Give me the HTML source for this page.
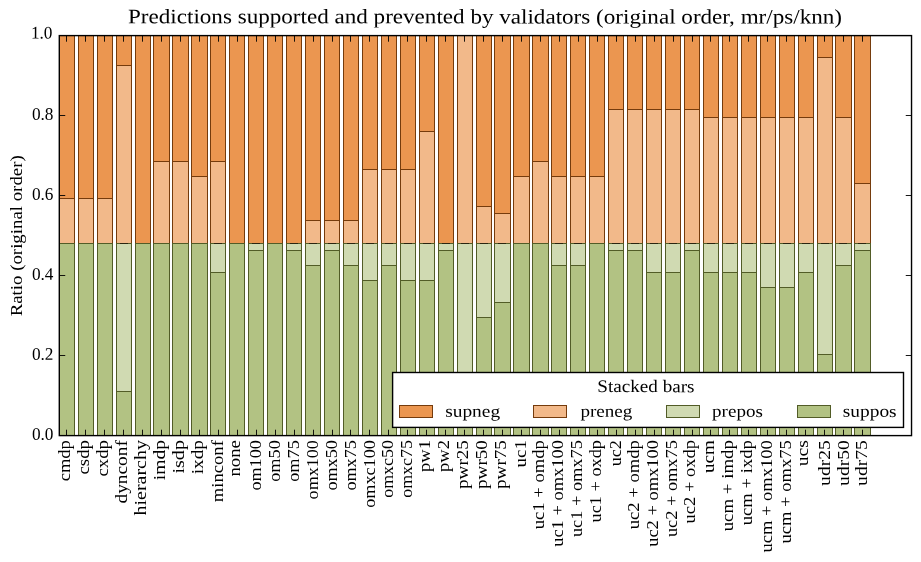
<!DOCTYPE html>
<html><head><meta charset="utf-8"><title>Predictions supported and prevented by validators</title>
<style>
html,body{margin:0;padding:0;background:#fff;}
body{width:921px;height:562px;overflow:hidden;font-family:"Liberation Serif",serif;}
svg{display:block;will-change:transform;}
</style></head><body>
<svg width="921" height="562" viewBox="0 0 921 562">
<rect x="0" y="0" width="921" height="562" fill="#fff"/>
<g stroke-width="1">
<rect x="59.5" y="198.5" width="15.0" height="45.0" fill="#f2b98a" stroke="#753b0c"/>
<rect x="59.5" y="35.5" width="15.0" height="163.0" fill="#eb9650" stroke="#753b0c"/>
<rect x="59.5" y="243.5" width="15.0" height="192.0" fill="#b2c283" stroke="#525c27"/>
<rect x="59.5" y="243.5" width="15.0" height="0.0" fill="#d0dab2" stroke="#525c27"/>
<rect x="78.5" y="198.5" width="15.0" height="45.0" fill="#f2b98a" stroke="#753b0c"/>
<rect x="78.5" y="35.5" width="15.0" height="163.0" fill="#eb9650" stroke="#753b0c"/>
<rect x="78.5" y="243.5" width="15.0" height="192.0" fill="#b2c283" stroke="#525c27"/>
<rect x="78.5" y="243.5" width="15.0" height="0.0" fill="#d0dab2" stroke="#525c27"/>
<rect x="97.5" y="198.5" width="15.0" height="45.0" fill="#f2b98a" stroke="#753b0c"/>
<rect x="97.5" y="35.5" width="15.0" height="163.0" fill="#eb9650" stroke="#753b0c"/>
<rect x="97.5" y="243.5" width="15.0" height="192.0" fill="#b2c283" stroke="#525c27"/>
<rect x="97.5" y="243.5" width="15.0" height="0.0" fill="#d0dab2" stroke="#525c27"/>
<rect x="116.5" y="65.5" width="15.0" height="178.0" fill="#f2b98a" stroke="#753b0c"/>
<rect x="116.5" y="35.5" width="15.0" height="30.0" fill="#eb9650" stroke="#753b0c"/>
<rect x="116.5" y="391.5" width="15.0" height="44.0" fill="#b2c283" stroke="#525c27"/>
<rect x="116.5" y="243.5" width="15.0" height="148.0" fill="#d0dab2" stroke="#525c27"/>
<rect x="135.5" y="243.5" width="15.0" height="0.0" fill="#f2b98a" stroke="#753b0c"/>
<rect x="135.5" y="35.5" width="15.0" height="208.0" fill="#eb9650" stroke="#753b0c"/>
<rect x="135.5" y="243.5" width="15.0" height="192.0" fill="#b2c283" stroke="#525c27"/>
<rect x="135.5" y="243.5" width="15.0" height="0.0" fill="#d0dab2" stroke="#525c27"/>
<rect x="153.5" y="161.5" width="16.0" height="82.0" fill="#f2b98a" stroke="#753b0c"/>
<rect x="153.5" y="35.5" width="16.0" height="126.0" fill="#eb9650" stroke="#753b0c"/>
<rect x="153.5" y="243.5" width="16.0" height="192.0" fill="#b2c283" stroke="#525c27"/>
<rect x="153.5" y="243.5" width="16.0" height="0.0" fill="#d0dab2" stroke="#525c27"/>
<rect x="172.5" y="161.5" width="16.0" height="82.0" fill="#f2b98a" stroke="#753b0c"/>
<rect x="172.5" y="35.5" width="16.0" height="126.0" fill="#eb9650" stroke="#753b0c"/>
<rect x="172.5" y="243.5" width="16.0" height="192.0" fill="#b2c283" stroke="#525c27"/>
<rect x="172.5" y="243.5" width="16.0" height="0.0" fill="#d0dab2" stroke="#525c27"/>
<rect x="191.5" y="176.5" width="16.0" height="67.0" fill="#f2b98a" stroke="#753b0c"/>
<rect x="191.5" y="35.5" width="16.0" height="141.0" fill="#eb9650" stroke="#753b0c"/>
<rect x="191.5" y="243.5" width="16.0" height="192.0" fill="#b2c283" stroke="#525c27"/>
<rect x="191.5" y="243.5" width="16.0" height="0.0" fill="#d0dab2" stroke="#525c27"/>
<rect x="210.5" y="161.5" width="15.0" height="82.0" fill="#f2b98a" stroke="#753b0c"/>
<rect x="210.5" y="35.5" width="15.0" height="126.0" fill="#eb9650" stroke="#753b0c"/>
<rect x="210.5" y="272.5" width="15.0" height="163.0" fill="#b2c283" stroke="#525c27"/>
<rect x="210.5" y="243.5" width="15.0" height="29.0" fill="#d0dab2" stroke="#525c27"/>
<rect x="229.5" y="243.5" width="15.0" height="0.0" fill="#f2b98a" stroke="#753b0c"/>
<rect x="229.5" y="35.5" width="15.0" height="208.0" fill="#eb9650" stroke="#753b0c"/>
<rect x="229.5" y="243.5" width="15.0" height="192.0" fill="#b2c283" stroke="#525c27"/>
<rect x="229.5" y="243.5" width="15.0" height="0.0" fill="#d0dab2" stroke="#525c27"/>
<rect x="248.5" y="243.5" width="15.0" height="0.0" fill="#f2b98a" stroke="#753b0c"/>
<rect x="248.5" y="35.5" width="15.0" height="208.0" fill="#eb9650" stroke="#753b0c"/>
<rect x="248.5" y="250.5" width="15.0" height="185.0" fill="#b2c283" stroke="#525c27"/>
<rect x="248.5" y="243.5" width="15.0" height="7.0" fill="#d0dab2" stroke="#525c27"/>
<rect x="267.5" y="243.5" width="15.0" height="0.0" fill="#f2b98a" stroke="#753b0c"/>
<rect x="267.5" y="35.5" width="15.0" height="208.0" fill="#eb9650" stroke="#753b0c"/>
<rect x="267.5" y="243.5" width="15.0" height="192.0" fill="#b2c283" stroke="#525c27"/>
<rect x="267.5" y="243.5" width="15.0" height="0.0" fill="#d0dab2" stroke="#525c27"/>
<rect x="286.5" y="243.5" width="15.0" height="0.0" fill="#f2b98a" stroke="#753b0c"/>
<rect x="286.5" y="35.5" width="15.0" height="208.0" fill="#eb9650" stroke="#753b0c"/>
<rect x="286.5" y="250.5" width="15.0" height="185.0" fill="#b2c283" stroke="#525c27"/>
<rect x="286.5" y="243.5" width="15.0" height="7.0" fill="#d0dab2" stroke="#525c27"/>
<rect x="305.5" y="220.5" width="15.0" height="23.0" fill="#f2b98a" stroke="#753b0c"/>
<rect x="305.5" y="35.5" width="15.0" height="185.0" fill="#eb9650" stroke="#753b0c"/>
<rect x="305.5" y="265.5" width="15.0" height="170.0" fill="#b2c283" stroke="#525c27"/>
<rect x="305.5" y="243.5" width="15.0" height="22.0" fill="#d0dab2" stroke="#525c27"/>
<rect x="324.5" y="220.5" width="15.0" height="23.0" fill="#f2b98a" stroke="#753b0c"/>
<rect x="324.5" y="35.5" width="15.0" height="185.0" fill="#eb9650" stroke="#753b0c"/>
<rect x="324.5" y="250.5" width="15.0" height="185.0" fill="#b2c283" stroke="#525c27"/>
<rect x="324.5" y="243.5" width="15.0" height="7.0" fill="#d0dab2" stroke="#525c27"/>
<rect x="343.5" y="220.5" width="15.0" height="23.0" fill="#f2b98a" stroke="#753b0c"/>
<rect x="343.5" y="35.5" width="15.0" height="185.0" fill="#eb9650" stroke="#753b0c"/>
<rect x="343.5" y="265.5" width="15.0" height="170.0" fill="#b2c283" stroke="#525c27"/>
<rect x="343.5" y="243.5" width="15.0" height="22.0" fill="#d0dab2" stroke="#525c27"/>
<rect x="362.5" y="169.5" width="15.0" height="74.0" fill="#f2b98a" stroke="#753b0c"/>
<rect x="362.5" y="35.5" width="15.0" height="134.0" fill="#eb9650" stroke="#753b0c"/>
<rect x="362.5" y="280.5" width="15.0" height="155.0" fill="#b2c283" stroke="#525c27"/>
<rect x="362.5" y="243.5" width="15.0" height="37.0" fill="#d0dab2" stroke="#525c27"/>
<rect x="381.5" y="169.5" width="15.0" height="74.0" fill="#f2b98a" stroke="#753b0c"/>
<rect x="381.5" y="35.5" width="15.0" height="134.0" fill="#eb9650" stroke="#753b0c"/>
<rect x="381.5" y="265.5" width="15.0" height="170.0" fill="#b2c283" stroke="#525c27"/>
<rect x="381.5" y="243.5" width="15.0" height="22.0" fill="#d0dab2" stroke="#525c27"/>
<rect x="400.5" y="169.5" width="15.0" height="74.0" fill="#f2b98a" stroke="#753b0c"/>
<rect x="400.5" y="35.5" width="15.0" height="134.0" fill="#eb9650" stroke="#753b0c"/>
<rect x="400.5" y="280.5" width="15.0" height="155.0" fill="#b2c283" stroke="#525c27"/>
<rect x="400.5" y="243.5" width="15.0" height="37.0" fill="#d0dab2" stroke="#525c27"/>
<rect x="419.5" y="131.5" width="15.0" height="112.0" fill="#f2b98a" stroke="#753b0c"/>
<rect x="419.5" y="35.5" width="15.0" height="96.0" fill="#eb9650" stroke="#753b0c"/>
<rect x="419.5" y="280.5" width="15.0" height="155.0" fill="#b2c283" stroke="#525c27"/>
<rect x="419.5" y="243.5" width="15.0" height="37.0" fill="#d0dab2" stroke="#525c27"/>
<rect x="438.5" y="243.5" width="15.0" height="0.0" fill="#f2b98a" stroke="#753b0c"/>
<rect x="438.5" y="35.5" width="15.0" height="208.0" fill="#eb9650" stroke="#753b0c"/>
<rect x="438.5" y="250.5" width="15.0" height="185.0" fill="#b2c283" stroke="#525c27"/>
<rect x="438.5" y="243.5" width="15.0" height="7.0" fill="#d0dab2" stroke="#525c27"/>
<rect x="457.5" y="35.5" width="15.0" height="208.0" fill="#f2b98a" stroke="#753b0c"/>
<rect x="457.5" y="35.5" width="15.0" height="0.0" fill="#eb9650" stroke="#753b0c"/>
<rect x="457.5" y="413.5" width="15.0" height="22.0" fill="#b2c283" stroke="#525c27"/>
<rect x="457.5" y="243.5" width="15.0" height="170.0" fill="#d0dab2" stroke="#525c27"/>
<rect x="476.5" y="206.5" width="15.0" height="37.0" fill="#f2b98a" stroke="#753b0c"/>
<rect x="476.5" y="35.5" width="15.0" height="171.0" fill="#eb9650" stroke="#753b0c"/>
<rect x="476.5" y="317.5" width="15.0" height="118.0" fill="#b2c283" stroke="#525c27"/>
<rect x="476.5" y="243.5" width="15.0" height="74.0" fill="#d0dab2" stroke="#525c27"/>
<rect x="494.5" y="213.5" width="16.0" height="30.0" fill="#f2b98a" stroke="#753b0c"/>
<rect x="494.5" y="35.5" width="16.0" height="178.0" fill="#eb9650" stroke="#753b0c"/>
<rect x="494.5" y="302.5" width="16.0" height="133.0" fill="#b2c283" stroke="#525c27"/>
<rect x="494.5" y="243.5" width="16.0" height="59.0" fill="#d0dab2" stroke="#525c27"/>
<rect x="513.5" y="176.5" width="16.0" height="67.0" fill="#f2b98a" stroke="#753b0c"/>
<rect x="513.5" y="35.5" width="16.0" height="141.0" fill="#eb9650" stroke="#753b0c"/>
<rect x="513.5" y="243.5" width="16.0" height="192.0" fill="#b2c283" stroke="#525c27"/>
<rect x="513.5" y="243.5" width="16.0" height="0.0" fill="#d0dab2" stroke="#525c27"/>
<rect x="532.5" y="161.5" width="16.0" height="82.0" fill="#f2b98a" stroke="#753b0c"/>
<rect x="532.5" y="35.5" width="16.0" height="126.0" fill="#eb9650" stroke="#753b0c"/>
<rect x="532.5" y="243.5" width="16.0" height="192.0" fill="#b2c283" stroke="#525c27"/>
<rect x="532.5" y="243.5" width="16.0" height="0.0" fill="#d0dab2" stroke="#525c27"/>
<rect x="551.5" y="176.5" width="15.0" height="67.0" fill="#f2b98a" stroke="#753b0c"/>
<rect x="551.5" y="35.5" width="15.0" height="141.0" fill="#eb9650" stroke="#753b0c"/>
<rect x="551.5" y="265.5" width="15.0" height="170.0" fill="#b2c283" stroke="#525c27"/>
<rect x="551.5" y="243.5" width="15.0" height="22.0" fill="#d0dab2" stroke="#525c27"/>
<rect x="570.5" y="176.5" width="15.0" height="67.0" fill="#f2b98a" stroke="#753b0c"/>
<rect x="570.5" y="35.5" width="15.0" height="141.0" fill="#eb9650" stroke="#753b0c"/>
<rect x="570.5" y="265.5" width="15.0" height="170.0" fill="#b2c283" stroke="#525c27"/>
<rect x="570.5" y="243.5" width="15.0" height="22.0" fill="#d0dab2" stroke="#525c27"/>
<rect x="589.5" y="176.5" width="15.0" height="67.0" fill="#f2b98a" stroke="#753b0c"/>
<rect x="589.5" y="35.5" width="15.0" height="141.0" fill="#eb9650" stroke="#753b0c"/>
<rect x="589.5" y="243.5" width="15.0" height="192.0" fill="#b2c283" stroke="#525c27"/>
<rect x="589.5" y="243.5" width="15.0" height="0.0" fill="#d0dab2" stroke="#525c27"/>
<rect x="608.5" y="109.5" width="15.0" height="134.0" fill="#f2b98a" stroke="#753b0c"/>
<rect x="608.5" y="35.5" width="15.0" height="74.0" fill="#eb9650" stroke="#753b0c"/>
<rect x="608.5" y="250.5" width="15.0" height="185.0" fill="#b2c283" stroke="#525c27"/>
<rect x="608.5" y="243.5" width="15.0" height="7.0" fill="#d0dab2" stroke="#525c27"/>
<rect x="627.5" y="109.5" width="15.0" height="134.0" fill="#f2b98a" stroke="#753b0c"/>
<rect x="627.5" y="35.5" width="15.0" height="74.0" fill="#eb9650" stroke="#753b0c"/>
<rect x="627.5" y="250.5" width="15.0" height="185.0" fill="#b2c283" stroke="#525c27"/>
<rect x="627.5" y="243.5" width="15.0" height="7.0" fill="#d0dab2" stroke="#525c27"/>
<rect x="646.5" y="109.5" width="15.0" height="134.0" fill="#f2b98a" stroke="#753b0c"/>
<rect x="646.5" y="35.5" width="15.0" height="74.0" fill="#eb9650" stroke="#753b0c"/>
<rect x="646.5" y="272.5" width="15.0" height="163.0" fill="#b2c283" stroke="#525c27"/>
<rect x="646.5" y="243.5" width="15.0" height="29.0" fill="#d0dab2" stroke="#525c27"/>
<rect x="665.5" y="109.5" width="15.0" height="134.0" fill="#f2b98a" stroke="#753b0c"/>
<rect x="665.5" y="35.5" width="15.0" height="74.0" fill="#eb9650" stroke="#753b0c"/>
<rect x="665.5" y="272.5" width="15.0" height="163.0" fill="#b2c283" stroke="#525c27"/>
<rect x="665.5" y="243.5" width="15.0" height="29.0" fill="#d0dab2" stroke="#525c27"/>
<rect x="684.5" y="109.5" width="15.0" height="134.0" fill="#f2b98a" stroke="#753b0c"/>
<rect x="684.5" y="35.5" width="15.0" height="74.0" fill="#eb9650" stroke="#753b0c"/>
<rect x="684.5" y="250.5" width="15.0" height="185.0" fill="#b2c283" stroke="#525c27"/>
<rect x="684.5" y="243.5" width="15.0" height="7.0" fill="#d0dab2" stroke="#525c27"/>
<rect x="703.5" y="117.5" width="15.0" height="126.0" fill="#f2b98a" stroke="#753b0c"/>
<rect x="703.5" y="35.5" width="15.0" height="82.0" fill="#eb9650" stroke="#753b0c"/>
<rect x="703.5" y="272.5" width="15.0" height="163.0" fill="#b2c283" stroke="#525c27"/>
<rect x="703.5" y="243.5" width="15.0" height="29.0" fill="#d0dab2" stroke="#525c27"/>
<rect x="722.5" y="117.5" width="15.0" height="126.0" fill="#f2b98a" stroke="#753b0c"/>
<rect x="722.5" y="35.5" width="15.0" height="82.0" fill="#eb9650" stroke="#753b0c"/>
<rect x="722.5" y="272.5" width="15.0" height="163.0" fill="#b2c283" stroke="#525c27"/>
<rect x="722.5" y="243.5" width="15.0" height="29.0" fill="#d0dab2" stroke="#525c27"/>
<rect x="741.5" y="117.5" width="15.0" height="126.0" fill="#f2b98a" stroke="#753b0c"/>
<rect x="741.5" y="35.5" width="15.0" height="82.0" fill="#eb9650" stroke="#753b0c"/>
<rect x="741.5" y="272.5" width="15.0" height="163.0" fill="#b2c283" stroke="#525c27"/>
<rect x="741.5" y="243.5" width="15.0" height="29.0" fill="#d0dab2" stroke="#525c27"/>
<rect x="760.5" y="117.5" width="15.0" height="126.0" fill="#f2b98a" stroke="#753b0c"/>
<rect x="760.5" y="35.5" width="15.0" height="82.0" fill="#eb9650" stroke="#753b0c"/>
<rect x="760.5" y="287.5" width="15.0" height="148.0" fill="#b2c283" stroke="#525c27"/>
<rect x="760.5" y="243.5" width="15.0" height="44.0" fill="#d0dab2" stroke="#525c27"/>
<rect x="779.5" y="117.5" width="15.0" height="126.0" fill="#f2b98a" stroke="#753b0c"/>
<rect x="779.5" y="35.5" width="15.0" height="82.0" fill="#eb9650" stroke="#753b0c"/>
<rect x="779.5" y="287.5" width="15.0" height="148.0" fill="#b2c283" stroke="#525c27"/>
<rect x="779.5" y="243.5" width="15.0" height="44.0" fill="#d0dab2" stroke="#525c27"/>
<rect x="798.5" y="117.5" width="15.0" height="126.0" fill="#f2b98a" stroke="#753b0c"/>
<rect x="798.5" y="35.5" width="15.0" height="82.0" fill="#eb9650" stroke="#753b0c"/>
<rect x="798.5" y="272.5" width="15.0" height="163.0" fill="#b2c283" stroke="#525c27"/>
<rect x="798.5" y="243.5" width="15.0" height="29.0" fill="#d0dab2" stroke="#525c27"/>
<rect x="817.5" y="57.5" width="15.0" height="186.0" fill="#f2b98a" stroke="#753b0c"/>
<rect x="817.5" y="35.5" width="15.0" height="22.0" fill="#eb9650" stroke="#753b0c"/>
<rect x="817.5" y="354.5" width="15.0" height="81.0" fill="#b2c283" stroke="#525c27"/>
<rect x="817.5" y="243.5" width="15.0" height="111.0" fill="#d0dab2" stroke="#525c27"/>
<rect x="835.5" y="117.5" width="16.0" height="126.0" fill="#f2b98a" stroke="#753b0c"/>
<rect x="835.5" y="35.5" width="16.0" height="82.0" fill="#eb9650" stroke="#753b0c"/>
<rect x="835.5" y="265.5" width="16.0" height="170.0" fill="#b2c283" stroke="#525c27"/>
<rect x="835.5" y="243.5" width="16.0" height="22.0" fill="#d0dab2" stroke="#525c27"/>
<rect x="854.5" y="183.5" width="16.0" height="60.0" fill="#f2b98a" stroke="#753b0c"/>
<rect x="854.5" y="35.5" width="16.0" height="148.0" fill="#eb9650" stroke="#753b0c"/>
<rect x="854.5" y="250.5" width="16.0" height="185.0" fill="#b2c283" stroke="#525c27"/>
<rect x="854.5" y="243.5" width="16.0" height="7.0" fill="#d0dab2" stroke="#525c27"/>
<line x1="120.0" y1="243.5" x2="128.0" y2="243.5" stroke="#2a2410"/>
<line x1="214.0" y1="243.5" x2="222.0" y2="243.5" stroke="#2a2410"/>
<line x1="252.0" y1="243.5" x2="260.0" y2="243.5" stroke="#2a2410"/>
<line x1="290.0" y1="243.5" x2="298.0" y2="243.5" stroke="#2a2410"/>
<line x1="309.0" y1="243.5" x2="317.0" y2="243.5" stroke="#2a2410"/>
<line x1="328.0" y1="243.5" x2="336.0" y2="243.5" stroke="#2a2410"/>
<line x1="347.0" y1="243.5" x2="355.0" y2="243.5" stroke="#2a2410"/>
<line x1="366.0" y1="243.5" x2="374.0" y2="243.5" stroke="#2a2410"/>
<line x1="385.0" y1="243.5" x2="393.0" y2="243.5" stroke="#2a2410"/>
<line x1="404.0" y1="243.5" x2="412.0" y2="243.5" stroke="#2a2410"/>
<line x1="423.0" y1="243.5" x2="431.0" y2="243.5" stroke="#2a2410"/>
<line x1="442.0" y1="243.5" x2="450.0" y2="243.5" stroke="#2a2410"/>
<line x1="461.0" y1="243.5" x2="469.0" y2="243.5" stroke="#2a2410"/>
<line x1="480.0" y1="243.5" x2="488.0" y2="243.5" stroke="#2a2410"/>
<line x1="498.0" y1="243.5" x2="506.0" y2="243.5" stroke="#2a2410"/>
<line x1="555.0" y1="243.5" x2="563.0" y2="243.5" stroke="#2a2410"/>
<line x1="574.0" y1="243.5" x2="582.0" y2="243.5" stroke="#2a2410"/>
<line x1="612.0" y1="243.5" x2="620.0" y2="243.5" stroke="#2a2410"/>
<line x1="631.0" y1="243.5" x2="639.0" y2="243.5" stroke="#2a2410"/>
<line x1="650.0" y1="243.5" x2="658.0" y2="243.5" stroke="#2a2410"/>
<line x1="669.0" y1="243.5" x2="677.0" y2="243.5" stroke="#2a2410"/>
<line x1="688.0" y1="243.5" x2="696.0" y2="243.5" stroke="#2a2410"/>
<line x1="707.0" y1="243.5" x2="715.0" y2="243.5" stroke="#2a2410"/>
<line x1="726.0" y1="243.5" x2="734.0" y2="243.5" stroke="#2a2410"/>
<line x1="745.0" y1="243.5" x2="753.0" y2="243.5" stroke="#2a2410"/>
<line x1="764.0" y1="243.5" x2="772.0" y2="243.5" stroke="#2a2410"/>
<line x1="783.0" y1="243.5" x2="791.0" y2="243.5" stroke="#2a2410"/>
<line x1="802.0" y1="243.5" x2="810.0" y2="243.5" stroke="#2a2410"/>
<line x1="821.0" y1="243.5" x2="829.0" y2="243.5" stroke="#2a2410"/>
<line x1="839.0" y1="243.5" x2="847.0" y2="243.5" stroke="#2a2410"/>
<line x1="858.0" y1="243.5" x2="866.0" y2="243.5" stroke="#2a2410"/>
</g>
<g stroke="#000" stroke-width="1" stroke-opacity="0.9">
<line x1="66.5" y1="435.7" x2="66.5" y2="429.70"/>
<line x1="66.5" y1="35.7" x2="66.5" y2="41.70"/>
<line x1="85.5" y1="435.7" x2="85.5" y2="429.70"/>
<line x1="85.5" y1="35.7" x2="85.5" y2="41.70"/>
<line x1="104.5" y1="435.7" x2="104.5" y2="429.70"/>
<line x1="104.5" y1="35.7" x2="104.5" y2="41.70"/>
<line x1="123.5" y1="435.7" x2="123.5" y2="429.70"/>
<line x1="123.5" y1="35.7" x2="123.5" y2="41.70"/>
<line x1="142.5" y1="435.7" x2="142.5" y2="429.70"/>
<line x1="142.5" y1="35.7" x2="142.5" y2="41.70"/>
<line x1="161.5" y1="435.7" x2="161.5" y2="429.70"/>
<line x1="161.5" y1="35.7" x2="161.5" y2="41.70"/>
<line x1="180.5" y1="435.7" x2="180.5" y2="429.70"/>
<line x1="180.5" y1="35.7" x2="180.5" y2="41.70"/>
<line x1="199.5" y1="435.7" x2="199.5" y2="429.70"/>
<line x1="199.5" y1="35.7" x2="199.5" y2="41.70"/>
<line x1="218.5" y1="435.7" x2="218.5" y2="429.70"/>
<line x1="218.5" y1="35.7" x2="218.5" y2="41.70"/>
<line x1="237.5" y1="435.7" x2="237.5" y2="429.70"/>
<line x1="237.5" y1="35.7" x2="237.5" y2="41.70"/>
<line x1="256.5" y1="435.7" x2="256.5" y2="429.70"/>
<line x1="256.5" y1="35.7" x2="256.5" y2="41.70"/>
<line x1="275.5" y1="435.7" x2="275.5" y2="429.70"/>
<line x1="275.5" y1="35.7" x2="275.5" y2="41.70"/>
<line x1="294.5" y1="435.7" x2="294.5" y2="429.70"/>
<line x1="294.5" y1="35.7" x2="294.5" y2="41.70"/>
<line x1="313.5" y1="435.7" x2="313.5" y2="429.70"/>
<line x1="313.5" y1="35.7" x2="313.5" y2="41.70"/>
<line x1="332.5" y1="435.7" x2="332.5" y2="429.70"/>
<line x1="332.5" y1="35.7" x2="332.5" y2="41.70"/>
<line x1="350.5" y1="435.7" x2="350.5" y2="429.70"/>
<line x1="350.5" y1="35.7" x2="350.5" y2="41.70"/>
<line x1="369.5" y1="435.7" x2="369.5" y2="429.70"/>
<line x1="369.5" y1="35.7" x2="369.5" y2="41.70"/>
<line x1="388.5" y1="435.7" x2="388.5" y2="429.70"/>
<line x1="388.5" y1="35.7" x2="388.5" y2="41.70"/>
<line x1="407.5" y1="435.7" x2="407.5" y2="429.70"/>
<line x1="407.5" y1="35.7" x2="407.5" y2="41.70"/>
<line x1="426.5" y1="435.7" x2="426.5" y2="429.70"/>
<line x1="426.5" y1="35.7" x2="426.5" y2="41.70"/>
<line x1="445.5" y1="435.7" x2="445.5" y2="429.70"/>
<line x1="445.5" y1="35.7" x2="445.5" y2="41.70"/>
<line x1="464.5" y1="435.7" x2="464.5" y2="429.70"/>
<line x1="464.5" y1="35.7" x2="464.5" y2="41.70"/>
<line x1="483.5" y1="435.7" x2="483.5" y2="429.70"/>
<line x1="483.5" y1="35.7" x2="483.5" y2="41.70"/>
<line x1="502.5" y1="435.7" x2="502.5" y2="429.70"/>
<line x1="502.5" y1="35.7" x2="502.5" y2="41.70"/>
<line x1="521.5" y1="435.7" x2="521.5" y2="429.70"/>
<line x1="521.5" y1="35.7" x2="521.5" y2="41.70"/>
<line x1="540.5" y1="435.7" x2="540.5" y2="429.70"/>
<line x1="540.5" y1="35.7" x2="540.5" y2="41.70"/>
<line x1="559.5" y1="435.7" x2="559.5" y2="429.70"/>
<line x1="559.5" y1="35.7" x2="559.5" y2="41.70"/>
<line x1="578.5" y1="435.7" x2="578.5" y2="429.70"/>
<line x1="578.5" y1="35.7" x2="578.5" y2="41.70"/>
<line x1="597.5" y1="435.7" x2="597.5" y2="429.70"/>
<line x1="597.5" y1="35.7" x2="597.5" y2="41.70"/>
<line x1="616.5" y1="435.7" x2="616.5" y2="429.70"/>
<line x1="616.5" y1="35.7" x2="616.5" y2="41.70"/>
<line x1="635.5" y1="435.7" x2="635.5" y2="429.70"/>
<line x1="635.5" y1="35.7" x2="635.5" y2="41.70"/>
<line x1="654.5" y1="435.7" x2="654.5" y2="429.70"/>
<line x1="654.5" y1="35.7" x2="654.5" y2="41.70"/>
<line x1="673.5" y1="435.7" x2="673.5" y2="429.70"/>
<line x1="673.5" y1="35.7" x2="673.5" y2="41.70"/>
<line x1="692.5" y1="435.7" x2="692.5" y2="429.70"/>
<line x1="692.5" y1="35.7" x2="692.5" y2="41.70"/>
<line x1="710.5" y1="435.7" x2="710.5" y2="429.70"/>
<line x1="710.5" y1="35.7" x2="710.5" y2="41.70"/>
<line x1="729.5" y1="435.7" x2="729.5" y2="429.70"/>
<line x1="729.5" y1="35.7" x2="729.5" y2="41.70"/>
<line x1="748.5" y1="435.7" x2="748.5" y2="429.70"/>
<line x1="748.5" y1="35.7" x2="748.5" y2="41.70"/>
<line x1="767.5" y1="435.7" x2="767.5" y2="429.70"/>
<line x1="767.5" y1="35.7" x2="767.5" y2="41.70"/>
<line x1="786.5" y1="435.7" x2="786.5" y2="429.70"/>
<line x1="786.5" y1="35.7" x2="786.5" y2="41.70"/>
<line x1="805.5" y1="435.7" x2="805.5" y2="429.70"/>
<line x1="805.5" y1="35.7" x2="805.5" y2="41.70"/>
<line x1="824.5" y1="435.7" x2="824.5" y2="429.70"/>
<line x1="824.5" y1="35.7" x2="824.5" y2="41.70"/>
<line x1="843.5" y1="435.7" x2="843.5" y2="429.70"/>
<line x1="843.5" y1="35.7" x2="843.5" y2="41.70"/>
<line x1="862.5" y1="435.7" x2="862.5" y2="429.70"/>
<line x1="862.5" y1="35.7" x2="862.5" y2="41.70"/>
<line x1="59.24" y1="435.5" x2="65.24" y2="435.5"/>
<line x1="911.765" y1="435.5" x2="905.76" y2="435.5"/>
<line x1="59.24" y1="355.5" x2="65.24" y2="355.5"/>
<line x1="911.765" y1="355.5" x2="905.76" y2="355.5"/>
<line x1="59.24" y1="275.5" x2="65.24" y2="275.5"/>
<line x1="911.765" y1="275.5" x2="905.76" y2="275.5"/>
<line x1="59.24" y1="195.5" x2="65.24" y2="195.5"/>
<line x1="911.765" y1="195.5" x2="905.76" y2="195.5"/>
<line x1="59.24" y1="115.5" x2="65.24" y2="115.5"/>
<line x1="911.765" y1="115.5" x2="905.76" y2="115.5"/>
<line x1="59.24" y1="35.5" x2="65.24" y2="35.5"/>
<line x1="911.765" y1="35.5" x2="905.76" y2="35.5"/>
</g>
<rect x="59.30" y="35.60" width="852.23" height="400.00" fill="none" stroke="#000" stroke-width="1.4"/>
<g font-family="'Liberation Serif', serif" fill="#000">
<text transform="translate(128.0,23.2) rotate(0.03)" font-size="20.5" textLength="714" lengthAdjust="spacingAndGlyphs">Predictions supported and prevented by validators (original order, mr/ps/knn)</text>
<text transform="translate(31.9,439.70) rotate(0.3)" font-size="17.7" textLength="21.5" lengthAdjust="spacingAndGlyphs">0.0</text>
<text transform="translate(31.9,359.70) rotate(0.3)" font-size="17.7" textLength="21.5" lengthAdjust="spacingAndGlyphs">0.2</text>
<text transform="translate(31.9,279.70) rotate(0.3)" font-size="17.7" textLength="21.5" lengthAdjust="spacingAndGlyphs">0.4</text>
<text transform="translate(31.9,199.70) rotate(0.3)" font-size="17.7" textLength="21.5" lengthAdjust="spacingAndGlyphs">0.6</text>
<text transform="translate(31.9,119.70) rotate(0.3)" font-size="17.7" textLength="21.5" lengthAdjust="spacingAndGlyphs">0.8</text>
<text transform="translate(30.9,38.50) rotate(0.3)" font-size="17.7" textLength="21.5" lengthAdjust="spacingAndGlyphs">1.0</text>
<text transform="translate(21.6,316.3) rotate(-90)" font-size="17" textLength="161" lengthAdjust="spacingAndGlyphs">Ratio (original order)</text>
<text transform="translate(70.19,481.30) rotate(-90)" font-size="17" textLength="41.199999999999996" lengthAdjust="spacingAndGlyphs">cmdp</text>
<text transform="translate(89.13,474.50) rotate(-90)" font-size="17" textLength="34.4" lengthAdjust="spacingAndGlyphs">csdp</text>
<text transform="translate(108.08,476.50) rotate(-90)" font-size="17" textLength="36.4" lengthAdjust="spacingAndGlyphs">cxdp</text>
<text transform="translate(127.02,503.50) rotate(-90)" font-size="17" textLength="63.4" lengthAdjust="spacingAndGlyphs">dynconf</text>
<text transform="translate(145.97,515.50) rotate(-90)" font-size="17" textLength="75.4" lengthAdjust="spacingAndGlyphs">hierarchy</text>
<text transform="translate(164.91,480.20) rotate(-90)" font-size="17" textLength="40.1" lengthAdjust="spacingAndGlyphs">imdp</text>
<text transform="translate(183.86,473.50) rotate(-90)" font-size="17" textLength="33.4" lengthAdjust="spacingAndGlyphs">isdp</text>
<text transform="translate(202.80,474.30) rotate(-90)" font-size="17" textLength="34.2" lengthAdjust="spacingAndGlyphs">ixdp</text>
<text transform="translate(223.36,502.20) rotate(-90)" font-size="17" textLength="62.1" lengthAdjust="spacingAndGlyphs">minconf</text>
<text transform="translate(240.12,476.50) rotate(-90)" font-size="17" textLength="36.4" lengthAdjust="spacingAndGlyphs">none</text>
<text transform="translate(260.84,490.60) rotate(-90)" font-size="17" textLength="50.5" lengthAdjust="spacingAndGlyphs">om100</text>
<text transform="translate(279.78,481.80) rotate(-90)" font-size="17" textLength="41.7" lengthAdjust="spacingAndGlyphs">om50</text>
<text transform="translate(298.73,481.80) rotate(-90)" font-size="17" textLength="41.7" lengthAdjust="spacingAndGlyphs">om75</text>
<text transform="translate(317.67,499.40) rotate(-90)" font-size="17" textLength="59.3" lengthAdjust="spacingAndGlyphs">omx100</text>
<text transform="translate(336.62,490.60) rotate(-90)" font-size="17" textLength="50.5" lengthAdjust="spacingAndGlyphs">omx50</text>
<text transform="translate(355.56,490.60) rotate(-90)" font-size="17" textLength="50.5" lengthAdjust="spacingAndGlyphs">omx75</text>
<text transform="translate(374.51,507.80) rotate(-90)" font-size="17" textLength="67.7" lengthAdjust="spacingAndGlyphs">omxc100</text>
<text transform="translate(393.45,497.80) rotate(-90)" font-size="17" textLength="57.7" lengthAdjust="spacingAndGlyphs">omxc50</text>
<text transform="translate(412.40,497.80) rotate(-90)" font-size="17" textLength="57.7" lengthAdjust="spacingAndGlyphs">omxc75</text>
<text transform="translate(429.72,471.90) rotate(-90)" font-size="17" textLength="31.8" lengthAdjust="spacingAndGlyphs">pw1</text>
<text transform="translate(448.67,471.90) rotate(-90)" font-size="17" textLength="31.8" lengthAdjust="spacingAndGlyphs">pw2</text>
<text transform="translate(467.61,489.00) rotate(-90)" font-size="17" textLength="48.9" lengthAdjust="spacingAndGlyphs">pwr25</text>
<text transform="translate(486.56,489.00) rotate(-90)" font-size="17" textLength="48.9" lengthAdjust="spacingAndGlyphs">pwr50</text>
<text transform="translate(505.50,489.00) rotate(-90)" font-size="17" textLength="48.9" lengthAdjust="spacingAndGlyphs">pwr75</text>
<text transform="translate(526.07,467.40) rotate(-90)" font-size="17" textLength="27.3" lengthAdjust="spacingAndGlyphs">uc1</text>
<text transform="translate(543.81,529.20) rotate(-90)" font-size="17" textLength="89.1" lengthAdjust="spacingAndGlyphs">uc1 + omdp</text>
<text transform="translate(563.26,546.80) rotate(-90)" font-size="17" textLength="106.7" lengthAdjust="spacingAndGlyphs">uc1 + omx100</text>
<text transform="translate(582.21,537.10) rotate(-90)" font-size="17" textLength="97.0" lengthAdjust="spacingAndGlyphs">uc1 + omx75</text>
<text transform="translate(600.65,522.40) rotate(-90)" font-size="17" textLength="82.3" lengthAdjust="spacingAndGlyphs">uc1 + oxdp</text>
<text transform="translate(620.79,466.30) rotate(-90)" font-size="17" textLength="26.2" lengthAdjust="spacingAndGlyphs">uc2</text>
<text transform="translate(638.54,529.20) rotate(-90)" font-size="17" textLength="89.1" lengthAdjust="spacingAndGlyphs">uc2 + omdp</text>
<text transform="translate(657.99,546.80) rotate(-90)" font-size="17" textLength="106.7" lengthAdjust="spacingAndGlyphs">uc2 + omx100</text>
<text transform="translate(676.93,537.10) rotate(-90)" font-size="17" textLength="97.0" lengthAdjust="spacingAndGlyphs">uc2 + omx75</text>
<text transform="translate(695.37,523.40) rotate(-90)" font-size="17" textLength="83.3" lengthAdjust="spacingAndGlyphs">uc2 + oxdp</text>
<text transform="translate(713.74,472.90) rotate(-90)" font-size="17" textLength="32.8" lengthAdjust="spacingAndGlyphs">ucm</text>
<text transform="translate(733.26,531.30) rotate(-90)" font-size="17" textLength="91.2" lengthAdjust="spacingAndGlyphs">ucm + imdp</text>
<text transform="translate(752.21,525.30) rotate(-90)" font-size="17" textLength="85.2" lengthAdjust="spacingAndGlyphs">ucm + ixdp</text>
<text transform="translate(771.66,552.60) rotate(-90)" font-size="17" textLength="112.5" lengthAdjust="spacingAndGlyphs">ucm + omx100</text>
<text transform="translate(790.60,543.60) rotate(-90)" font-size="17" textLength="103.5" lengthAdjust="spacingAndGlyphs">ucm + omx75</text>
<text transform="translate(808.47,466.30) rotate(-90)" font-size="17" textLength="26.2" lengthAdjust="spacingAndGlyphs">ucs</text>
<text transform="translate(829.60,485.90) rotate(-90)" font-size="17" textLength="45.8" lengthAdjust="spacingAndGlyphs">udr25</text>
<text transform="translate(848.55,485.90) rotate(-90)" font-size="17" textLength="45.8" lengthAdjust="spacingAndGlyphs">udr50</text>
<text transform="translate(867.49,485.90) rotate(-90)" font-size="17" textLength="45.8" lengthAdjust="spacingAndGlyphs">udr75</text>
</g>
<rect x="392.6" y="372.5" width="510.9" height="54.89999999999998" fill="#fff" stroke="#000" stroke-width="1.4"/>
<g stroke-width="1" shape-rendering="crispEdges">
<rect x="399.0" y="405.2" width="33.4" height="12.4" fill="#eb9650" stroke="#753b0c"/>
<rect x="533.5" y="405.2" width="33.4" height="12.4" fill="#f2b98a" stroke="#753b0c"/>
<rect x="666.0" y="405.2" width="33.4" height="12.4" fill="#d0dab2" stroke="#525c27"/>
<rect x="797.3" y="405.2" width="33.4" height="12.4" fill="#b2c283" stroke="#525c27"/>
</g>
<g font-family="'Liberation Serif', serif" fill="#000" font-size="17">
<text transform="translate(597.3,392.0) rotate(0.1)" font-size="17.6" textLength="97.2" lengthAdjust="spacingAndGlyphs">Stacked bars</text>
<text transform="translate(445.2,416.8) rotate(0.1)" textLength="54.9" lengthAdjust="spacingAndGlyphs">supneg</text>
<text transform="translate(580.4000000000001,416.8) rotate(0.1)" textLength="51.9" lengthAdjust="spacingAndGlyphs">preneg</text>
<text transform="translate(712.1,416.8) rotate(0.1)" textLength="50.7" lengthAdjust="spacingAndGlyphs">prepos</text>
<text transform="translate(842.8000000000001,416.8) rotate(0.1)" textLength="53.800000000000004" lengthAdjust="spacingAndGlyphs">suppos</text>
</g>
</svg>
</body></html>
